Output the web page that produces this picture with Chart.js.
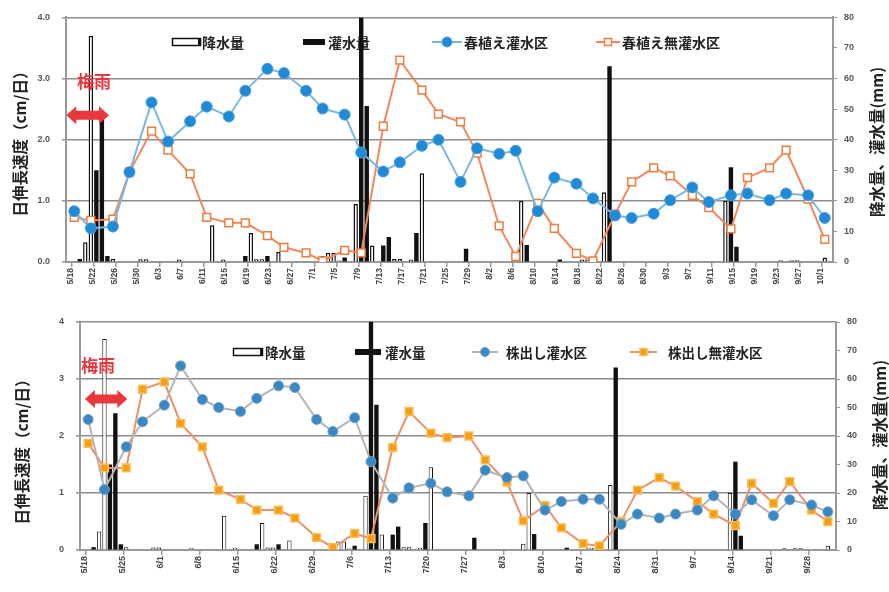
<!DOCTYPE html>
<html lang="ja">
<head>
<meta charset="utf-8">
<script src="https://cdn.jsdelivr.net/npm/chart.js@4.4.1/dist/chart.umd.min.js"></script>
<style>
  html, body { margin: 0; padding: 0; background: #fff; }
  body { width: 889px; height: 592px; overflow: hidden; position: relative; }
  .panel { position: absolute; left: 0; width: 889px; }
  #top { top: 0; height: 290px; }
  #bottom { top: 290px; height: 302px; }
</style>
</head>
<body>
<div class="panel" id="top"><canvas id="springChart"></canvas></div>
<div class="panel" id="bottom"><canvas id="ratoonChart"></canvas></div>
<script>
// Daily category axis, 5/17 - 10/2
const months = [[5, 17, 31], [6, 1, 30], [7, 1, 31], [8, 1, 31], [9, 1, 30], [10, 1, 2]];
const days = [];
months.forEach(([m, from, to]) => {
  for (let d = from; d <= to; d++) days.push(m + '/' + d);
});

// Survey dates for the growth rate lines
const surveyDates = ['5/18', '5/21', '5/25', '5/28', '6/1', '6/4', '6/8', '6/11', '6/15', '6/18',
  '6/22', '6/25', '6/29', '7/2', '7/6', '7/9', '7/13', '7/16', '7/20', '7/23',
  '7/27', '7/30', '8/3', '8/6', '8/10', '8/13', '8/17', '8/20', '8/24', '8/27',
  '8/31', '9/3', '9/7', '9/10', '9/14', '9/17', '9/21', '9/24', '9/28', '10/1'];

// cm/day
const springIrrigated = [0.83, 0.55, 0.58, 1.47, 2.61, 1.97, 2.3, 2.54, 2.38, 2.8,
  3.16, 3.09, 2.8, 2.51, 2.41, 1.79, 1.48, 1.63, 1.9, 2.0,
  1.31, 1.86, 1.77, 1.82, 0.83, 1.38, 1.28, 1.04, 0.76, 0.72,
  0.79, 1.01, 1.22, 0.98, 1.09, 1.12, 1.01, 1.12, 1.09, 0.72];
const springDry = [0.73, 0.68, 0.7, 1.47, 2.14, 1.83, 1.44, 0.73, 0.64, 0.64,
  0.43, 0.24, 0.15, 0.02, 0.19, 0.15, 2.22, 3.3, 2.81, 2.42,
  2.29, 1.78, 0.59, 0.09, 0.96, 0.55, 0.14, 0.02, 0.78, 1.31,
  1.54, 1.41, 1.09, 0.89, 0.54, 1.38, 1.54, 1.83, 1.03, 0.37];
const ratoonIrrigated = [2.29, 1.06, 1.81, 2.25, 2.54, 3.23, 2.64, 2.5, 2.43, 2.66,
  2.88, 2.85, 2.29, 2.08, 2.32, 1.55, 0.91, 1.09, 1.17, 1.02,
  0.95, 1.4, 1.27, 1.3, 0.7, 0.85, 0.89, 0.89, 0.45, 0.63,
  0.56, 0.63, 0.7, 0.95, 0.63, 0.88, 0.6, 0.88, 0.79, 0.67];
const ratoonDry = [1.87, 1.44, 1.44, 2.82, 2.95, 2.22, 1.81, 1.05, 0.89, 0.7,
  0.7, 0.56, 0.22, 0.04, 0.29, 0.2, 1.8, 2.43, 2.05, 1.97,
  2.0, 1.58, 1.19, 0.51, 0.78, 0.39, 0.11, 0.07, 0.5, 1.05,
  1.27, 1.12, 0.85, 0.63, 0.43, 1.17, 0.82, 1.2, 0.7, 0.5];

// mm
const rainDates = ['5/20', '5/21', '5/25', '5/30', '5/31', '6/6', '6/12', '6/14', '6/19', '6/20',
  '6/21', '6/24', '7/2', '7/3', '7/4', '7/5', '7/8', '7/11', '7/15', '7/16',
  '7/18', '7/20', '8/6', '8/7', '8/18', '8/19', '8/22', '9/13', '9/23', '9/25',
  '9/26', '10/1'];
const rainMm = [6.5, 74, 1, 0.9, 0.9, 0.8, 12, 0.8, 9.5, 0.9,
  0.9, 3.3, 2, 3, 3, 0.5, 19, 5.4, 1, 1,
  0.8, 29, 2.2, 20, 0.8, 0.8, 22.8, 20, 0.6, 0.6,
  0.6, 1.5];
const irrigDates = ['5/19', '5/22', '5/23', '5/24', '6/18', '6/22', '7/6', '7/9', '7/10', '7/13',
  '7/14', '7/19', '7/28', '8/8', '8/14', '8/23', '9/14', '9/15'];
const irrigMm = [1, 30, 48, 2, 2, 2, 1.5, 80, 51, 5.4,
  8.2, 9.5, 4.3, 5.6, 0.8, 64, 31, 5];

const pairs = (xs, ys) => xs.map((x, i) => ({x: x, y: ys[i]}));

const JP = '"Noto Sans CJK JP", sans-serif';
Chart.defaults.font.family = '"Liberation Sans", "Noto Sans CJK JP", sans-serif';

function doubleArrow(ctx, x1, x2, y) {
  const head = 10, hh = 9, sh = 4.5;
  ctx.beginPath();
  ctx.moveTo(x1, y);
  ctx.lineTo(x1 + head, y - hh);
  ctx.lineTo(x1 + head, y - sh);
  ctx.lineTo(x2 - head, y - sh);
  ctx.lineTo(x2 - head, y - hh);
  ctx.lineTo(x2, y);
  ctx.lineTo(x2 - head, y + hh);
  ctx.lineTo(x2 - head, y + sh);
  ctx.lineTo(x1 + head, y + sh);
  ctx.lineTo(x1 + head, y + hh);
  ctx.closePath();
  ctx.fill();
}

function vText(ctx, text, x, y) {
  ctx.save();
  ctx.translate(x, y);
  ctx.rotate(-Math.PI / 2);
  ctx.textAlign = 'center';
  ctx.textBaseline = 'middle';
  ctx.fillText(text, 0, 0);
  ctx.restore();
}

// legend inside the plot, axis titles, rainy season arrow
const decor = {
  id: 'decor',
  beforeDatasetsDraw(chart, args, o) {
    const ctx = chart.ctx;
    const y = o.legendY;
    ctx.save();
    o.legend.forEach(item => {
      const ds = chart.data.datasets[item.ds];
      if (item.kind === 'rain') {
        ctx.strokeStyle = '#111';
        ctx.lineWidth = 1.5;
        ctx.strokeRect(item.x + 0.5, y - 3.5, item.w, 7);
        ctx.fillStyle = '#111';
        ctx.fillRect(item.x + item.w - 2, y - 4, 3, 8);
      } else if (item.kind === 'irr') {
        ctx.fillStyle = '#111';
        ctx.fillRect(item.x, y - 3, item.w, 6);
      } else {
        ctx.strokeStyle = ds.borderColor;
        ctx.lineWidth = 2;
        ctx.beginPath();
        ctx.moveTo(item.x, y);
        ctx.lineTo(item.x + item.w, y);
        ctx.stroke();
        const cx = item.x + item.w / 2;
        ctx.fillStyle = ds.pointBackgroundColor;
        ctx.strokeStyle = ds.pointBorderColor;
        ctx.lineWidth = ds.pointBorderWidth;
        ctx.beginPath();
        if (ds.pointStyle === 'rect') ctx.rect(cx - 3.5, y - 3.5, 7, 7);
        else ctx.arc(cx, y, item.r || 4.5, 0, Math.PI * 2);
        ctx.fill();
        ctx.stroke();
      }
      ctx.fillStyle = '#222';
      ctx.font = 'bold ' + o.legendSize + 'px ' + JP;
      ctx.textBaseline = 'middle';
      ctx.textAlign = 'left';
      ctx.fillText(ds.label, item.tx, y + 1);
    });
    ctx.restore();
  },
  afterDatasetsDraw(chart, args, o) {
    const ctx = chart.ctx;
    const xs = chart.scales.x, ys = chart.scales.y;
    ctx.save();
    ctx.fillStyle = '#e8383d';
    doubleArrow(ctx, xs.getPixelForValue(o.arrow[0]), xs.getPixelForValue(o.arrow[1]), ys.getPixelForValue(o.arrow[2]));
    ctx.font = 'bold 17px ' + JP;
    ctx.textAlign = 'center';
    ctx.textBaseline = 'middle';
    ctx.fillText('梅雨', o.rainyText[0], o.rainyText[1]);
    ctx.fillStyle = '#222';
    ctx.font = 'bold 15.5px ' + JP;
    vText(ctx, '日伸長速度（cm/日）', o.leftTitle[0], o.leftTitle[1]);
    vText(ctx, '降水量、灌水量(mm)', o.rightTitle[0], o.rightTitle[1]);
    ctx.restore();
  }
};

function buildChart(id, opt) {
  const tickFont = {size: 9, weight: 'bold'};
  return new Chart(document.getElementById(id), {
    type: 'bar',
    data: {
      labels: days,
      datasets: [
        {
          type: 'line', label: opt.names[0], data: pairs(surveyDates, opt.irrigated),
          yAxisID: 'y', order: 0, borderColor: opt.blueLine, borderWidth: 2,
          pointStyle: 'circle', pointRadius: opt.blueR, pointBackgroundColor: opt.blue,
          pointBorderColor: opt.blueEdge, pointBorderWidth: 1
        },
        {
          type: 'line', label: opt.names[1], data: pairs(surveyDates, opt.dry),
          yAxisID: 'y', order: 0, borderColor: opt.orangeLine, borderWidth: 2,
          pointStyle: 'rect', pointRadius: 5.5, pointBackgroundColor: opt.orangeFill,
          pointBorderColor: opt.orangeEdge, pointBorderWidth: 1.5
        },
        {
          label: '降水量', data: pairs(rainDates, rainMm), yAxisID: 'y1', order: 1,
          grouped: false, backgroundColor: '#fff', borderColor: '#111', borderWidth: opt.rainBorder,
          barPercentage: 0.8, categoryPercentage: 1
        },
        {
          label: '灌水量', data: pairs(irrigDates, irrigMm), yAxisID: 'y1', order: 1,
          grouped: false, backgroundColor: '#111', barPercentage: 0.8, categoryPercentage: 1
        }
      ]
    },
    options: {
      responsive: true,
      maintainAspectRatio: false,
      animation: false,
      layout: {padding: {top: opt.padTop}},
      plugins: {
        legend: {display: false},
        tooltip: {enabled: false},
        decor: opt.decor
      },
      scales: {
        x: {
          offset: true,
          grid: {
            offset: true, drawOnChartArea: false, tickLength: 5, lineWidth: 1.5,
            tickColor: c => (c.index - 1) % opt.every === 0 ? '#999' : 'rgba(0,0,0,0)'
          },
          border: {color: '#999', width: 2},
          ticks: {
            autoSkip: false, maxRotation: 90, minRotation: 90, padding: 1, labelOffset: -4,
            font: {size: opt.xFont, weight: 'bold'}, color: '#444',
            callback: (v, i) => (i - 1) % opt.every === 0 ? days[i] : ''
          },
          afterFit: s => { s.height = opt.xH; }
        },
        y: {
          position: 'left', min: 0, max: 4,
          ticks: {stepSize: 1, padding: 12, font: tickFont, color: '#555',
            callback: v => opt.decimals ? v.toFixed(1) : v},
          grid: {color: '#8c8c8c', lineWidth: 1.6, tickLength: 4, tickColor: '#999'},
          border: {color: '#999', width: 2},
          afterFit: s => { s.width = opt.leftW; }
        },
        y1: {
          position: 'right', min: 0, max: 80,
          ticks: {stepSize: 10, padding: 7, font: tickFont, color: '#555'},
          grid: {drawOnChartArea: false, tickLength: 4, tickColor: '#999'},
          border: {color: '#999', width: 2},
          afterFit: s => { s.width = opt.rightW; }
        }
      }
    },
    plugins: [decor]
  });
}

buildChart('springChart', {
  names: ['春植え灌水区', '春植え無灌水区'],
  irrigated: springIrrigated, dry: springDry,
  blue: '#1f8ad6', blueEdge: '#4a9fdc', blueLine: '#7ab8e3', blueR: 5.5,
  orangeFill: '#ffffff', orangeEdge: '#ee7d3b', orangeLine: '#f0885a',
  every: 4, decimals: true, xFont: 8.5, rainBorder: 1.5,
  padTop: 15, xH: 28, leftW: 66, rightW: 56,
  decor: {
    legendY: 42, legendSize: 14,
    legend: [
      {ds: 2, kind: 'rain', x: 172, w: 28, tx: 202},
      {ds: 3, kind: 'irr', x: 303, w: 22, tx: 328},
      {ds: 0, kind: 'line', x: 432, w: 30, tx: 464, r: 5},
      {ds: 1, kind: 'line', x: 596, w: 24, tx: 622}
    ],
    arrow: [-0.45, 7.3, 2.4],
    rainyText: [94, 82],
    leftTitle: [20, 140],
    rightTitle: [877, 142]
  }
});

buildChart('ratoonChart', {
  names: ['株出し灌水区', '株出し無灌水区'],
  irrigated: ratoonIrrigated, dry: ratoonDry,
  blue: '#3a87c2', blueEdge: '#6aa2cc', blueLine: '#b4b4b4', blueR: 5,
  orangeFill: '#f59c1a', orangeEdge: '#f8c155', orangeLine: '#ec8f6b',
  every: 7, decimals: false, xFont: 9, rainBorder: 1,
  padTop: 32, xH: 42, leftW: 80, rightW: 53,
  decor: {
    legendY: 62, legendSize: 13.5,
    legend: [
      {ds: 2, kind: 'rain', x: 233, w: 29, tx: 265},
      {ds: 3, kind: 'irr', x: 355, w: 26, tx: 385},
      {ds: 0, kind: 'line', x: 472, w: 26, tx: 506, r: 4.5},
      {ds: 1, kind: 'line', x: 630, w: 27, tx: 668}
    ],
    arrow: [0.4, 8.2, 2.65],
    rainyText: [98, 76],
    leftTitle: [22, 158],
    rightTitle: [880, 145]
  }
});
</script>
</body>
</html>
